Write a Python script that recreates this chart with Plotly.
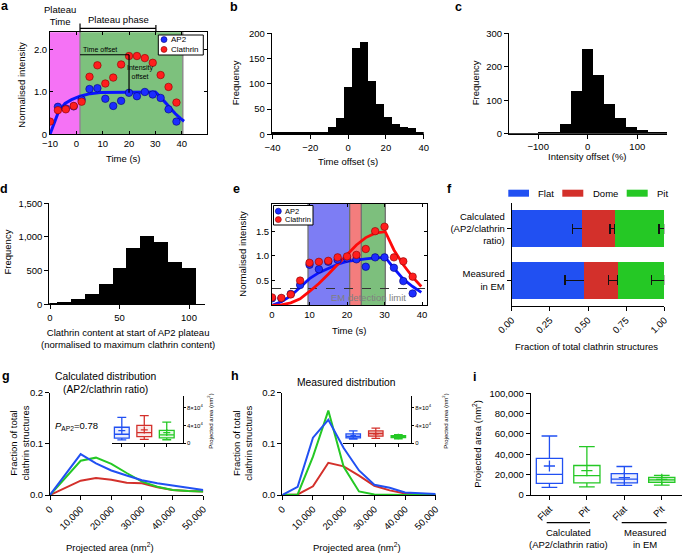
import plotly.graph_objects as go

W, H = 683, 554
FONT = "Liberation Sans, Arial, Helvetica, sans-serif"

def fx(p):
    return p / W

def fy(p):
    return 1 - p / H

# ---------------- DATA ----------------
# panel a
a_time = [-10, -7, -4, -1, 2, 5, 8, 11, 14, 17, 20, 23, 26, 29, 32, 35, 38]
a_clathrin = [0.30, 0.57, 0.59, 0.67, 0.77, 1.36, 1.63, 1.20, 1.34, 1.65, 1.85, 1.85, 1.80, 1.69, 1.40, 1.12, 0.75]
a_ap2_time = [-7, -4, -1, 2, 5, 8, 11, 14, 17, 20, 23, 26, 29, 32, 35, 38]
a_ap2 = [0.65, 0.61, 0.66, 0.82, 1.07, 1.09, 0.84, 0.67, 0.79, 0.98, 0.90, 1.00, 0.94, 0.86, 0.59, 0.30]
a_fit_time = [-10, -8.7, -6.8, -4.3, -1.8, 1.4, 5.2, 9, 20, 30, 31.8, 33.7, 35.6, 37.5, 39.4, 40.9]
a_fit_ap2 = [0, 0.22, 0.53, 0.73, 0.82, 0.90, 0.96, 0.99, 0.995, 1.0, 0.89, 0.75, 0.61, 0.49, 0.38, 0.31]
a_phase_edges = [-10, 1.4, 40.4]
a_plateau_end = 30.2
a_offset_time = 20
a_offset_levels = [0.98, 1.88]
a_xticks = [-10, 0, 10, 20, 30, 40]
a_yticks = [0, 1, 2]
a_yticklabels = ["0", "1.0", "2.0"]

# panel b
b_centers = [-37.9, -33.7, -29.5, -25.3, -21.1, -16.8, -12.6, -8.4, -4.2, 0.0,
             4.2, 8.4, 12.6, 16.8, 21.1, 25.3, 29.5, 33.7, 37.9]
b_counts = [2, 2, 2, 2, 5, 2, 3, 15, 33, 94, 170, 183, 105, 61, 34, 20, 14, 12, 5]
b_binwidth = 4.21

# panel c
c_centers = [-156.4, -134.2, -112.0, -89.8, -67.6, -45.4, -23.2, -1.0, 21.2, 43.4,
             65.6, 87.8, 110.0, 132.2, 154.4]
c_counts = [1, 1, 1, 2, 5, 29, 127, 252, 176, 90, 46, 19, 11, 4, 5]
c_binwidth = 22.2

# panel d
d_centers = [0, 10, 20, 30, 40, 50, 60, 70, 80, 90, 100]
d_counts = [10, 30, 80, 150, 300, 535, 830, 1015, 925, 630, 540]
d_binwidth = 10

# panel e
e_time = [0, 2.5, 5, 7.5, 10, 12.5, 15, 17.5, 20, 22.5, 25, 27.5, 30, 32.5, 35, 37.5]
e_ap2 = [0.14, 0.14, 0.23, 0.41, 0.82, 0.73, 0.88, 0.92, 0.95, 0.93, 0.78, 0.97, 0.97, 0.76, 0.49, 0.24]
e_clathrin = [0.16, 0.15, 0.22, 0.50, 0.86, 0.88, 0.90, 0.97, 0.99, 1.02, 1.14, 1.50, 1.59, 0.97, 0.89, 0.58]
e_fit_time = [0, 2.5, 5, 7.5, 10, 12.5, 15, 17.5, 20, 22.5, 25, 27.5, 30.2, 32.5, 35, 37.5, 39.8]
e_fit_ap2 = [0, 0.07, 0.19, 0.36, 0.54, 0.66, 0.75, 0.83, 0.89, 0.92, 0.94, 0.96, 0.97, 0.75, 0.53, 0.38, 0.26]
e_fit_clathrin = [0, 0.01, 0.05, 0.13, 0.28, 0.44, 0.63, 0.83, 1.03, 1.22, 1.37, 1.46, 1.49, 1.12, 0.82, 0.57, 0.38]
e_phase_edges = [9.6, 20.7, 23.8, 30.2]
e_em_limit = 0.34

# panel f
f_groups = ["Calculated<br>(AP2/clathrin<br>ratio)", "Measured<br>in EM"]
f_classes = ["Flat", "Dome", "Pit"]
f_fractions = {"Flat": [0.463, 0.476], "Dome": [0.214, 0.221], "Pit": [0.323, 0.303]}
f_errors = {"Flat": [0.065, 0.127], "Dome": [0.033, 0.064], "Pit": [0.035, 0.083]}
f_xticks = [0, 0.25, 0.5, 0.75, 1.0]

# panel g / h
g_area = [0, 10000, 15000, 20000, 25000, 30000, 35000, 40000, 45000, 50000]
g_flat = [0, 0.080, 0.062, 0.048, 0.038, 0.029, 0.023, 0.018, 0.014, 0.010]
g_dome = [0, 0.028, 0.033, 0.030, 0.024, 0.023, 0.015, 0.010, 0.008, 0.007]
g_pit = [0, 0.067, 0.073, 0.061, 0.043, 0.026, 0.016, 0.010, 0.008, 0.007]
h_area = [0, 5000, 10000, 15000, 20000, 25000, 30000, 35000, 40000, 45000, 50000]
h_flat = [0, 0.016, 0.112, 0.147, 0.092, 0.048, 0.020, 0.014, 0.005, 0.003, 0.002]
h_dome = [0, 0.001, 0.017, 0.063, 0.056, 0.038, 0.018, 0.009, 0.003, 0.001, 0]
h_pit = [0, 0.001, 0.075, 0.165, 0.055, 0.007, 0.001, 0, 0, 0, 0]
area_ticks = [0, 10000, 20000, 30000, 40000, 50000]

# box statistics: [lowerfence, q1, median, q3, upperfence, mean]
box_calc_flat = [7500, 11500, 20300, 36000, 58000, 28500]
box_calc_dome = [9000, 15000, 24000, 40000, 62000, 30000]
box_calc_pit = [8000, 12000, 19000, 29000, 47500, 24000]
box_meas_flat = [9500, 12000, 15700, 21000, 28000, 17000]
box_meas_dome = [11000, 16000, 22000, 28000, 34000, 21000]
box_meas_pit = [9800, 12500, 14800, 17400, 19300, 15400]
i_labels = ["Flat", "Pit", "Flat", "Pit"]
i_yticks = [0, 20000, 40000, 60000, 80000, 100000]
inset_ticks = [0, 40000, 80000]
inset_ticklabels = ["0", "4×10<sup>4</sup>", "8×10<sup>4</sup>"]

# ---------------- COLOURS ----------------
C_AP2 = "#1c2cff"
C_CLA = "#ff1e1e"
C_FLAT = "#2150f2"
C_DOME = "#d3302b"
C_PIT = "#25c825"

fig = go.Figure()

# ---------------- AXES ----------------
def ax(**kw):
    d = dict(showgrid=False, zeroline=False, showline=True, linecolor="black", linewidth=1,
             ticks="outside", ticklen=4, tickwidth=1, tickcolor="black", automargin=False,
             tickfont=dict(size=9.5, color="black", family=FONT))
    d.update(kw)
    return d

layout_axes = {
    "xaxis": ax(domain=[fx(50), fx(207)], range=[-10, 49.6], anchor="y", tickvals=a_xticks,
                ticks="inside", mirror="ticks", ticklen=3),
    "yaxis": ax(domain=[fy(134.3), fy(32.3)], range=[0, 2.41], anchor="x", tickvals=a_yticks,
                ticktext=a_yticklabels, ticks="inside", mirror="ticks", ticklen=3),
    "xaxis2": ax(domain=[fx(271.7), fx(423.7)], range=[-40.4, 40], anchor="y2",
                 tickvals=[-40, -20, 0, 20, 40]),
    "yaxis2": ax(domain=[fy(134.3), fy(33.3)], range=[0, 200], anchor="x2",
                 tickvals=[0, 50, 100, 150, 200]),
    "xaxis3": ax(domain=[fx(509), fx(667)], range=[-159, 160], anchor="y3",
                 tickvals=[-100, 0, 100]),
    "yaxis3": ax(domain=[fy(133.7), fy(33.3)], range=[0, 300], anchor="x3",
                 tickvals=[0, 100, 200, 300]),
    "xaxis4": ax(domain=[fx(49.3), fx(205)], range=[-0.5, 111.5], anchor="y4",
                 tickvals=[0, 50, 100]),
    "yaxis4": ax(domain=[fy(304.3), fy(203.3)], range=[0, 1500], anchor="x4",
                 tickvals=[0, 500, 1000, 1500], tickformat=","),
    "xaxis5": ax(domain=[fx(272), fx(427.3)], range=[0, 41.4], anchor="y5",
                 tickvals=[0, 10, 20, 30, 40], ticks="inside", mirror="ticks", ticklen=3),
    "yaxis5": ax(domain=[fy(305.3), fy(204)], range=[0, 2.05], anchor="x5",
                 tickvals=[0.5, 1.0, 1.5], tickformat=".1f", ticks="inside", mirror="ticks", ticklen=3),
    "xaxis6": ax(domain=[fx(511.7), fx(664.3)], range=[0, 1], anchor="y6",
                 tickvals=f_xticks, tickformat=".2f", tickangle=-45),
    "yaxis6": ax(domain=[fy(306), fy(202.7)], anchor="x6", type="category",
                 autorange="reversed"),
    "xaxis7": ax(domain=[fx(50), fx(203.3)], range=[0, 50000], anchor="y7",
                 tickvals=area_ticks, tickformat=",", tickangle=-45),
    "yaxis7": ax(domain=[fy(495), fy(392.7)], range=[0, 0.2], anchor="x7",
                 tickvals=[0, 0.1, 0.2], tickformat=".1f"),
    "xaxis8": ax(domain=[fx(282.3), fx(435.7)], range=[0, 50000], anchor="y8",
                 tickvals=area_ticks, tickformat=",", tickangle=-45),
    "yaxis8": ax(domain=[fy(495), fy(392.7)], range=[0, 0.2], anchor="x8",
                 tickvals=[0, 0.1, 0.2], tickformat=".1f"),
    "xaxis9": ax(domain=[fx(530.7), fx(682)], range=[0.5, 4.54], anchor="y9",
                 tickvals=[1, 2, 3, 4], ticktext=i_labels, tickangle=-45),
    "yaxis9": ax(domain=[fy(495), fy(393.3)], range=[0, 100000], anchor="x9",
                 tickvals=i_yticks, tickformat=","),
    "xaxis10": ax(domain=[fx(111.7), fx(182.7)], range=[0.55, 3.71], anchor="y10",
                  tickvals=[1, 2, 3], showticklabels=False, ticklen=3),
    "yaxis10": ax(domain=[fy(443.3), fy(396)], range=[0, 106000], anchor="x10", side="right",
                  tickvals=inset_ticks, ticktext=inset_ticklabels, ticklen=2,
                  tickfont=dict(size=6, color="black", family=FONT)),
    "xaxis11": ax(domain=[fx(343.3), fx(411)], range=[0.56, 3.56], anchor="y11",
                  tickvals=[1, 2, 3], showticklabels=False, ticklen=3),
    "yaxis11": ax(domain=[fy(443.3), fy(396)], range=[0, 106000], anchor="x11", side="right",
                  tickvals=inset_ticks, ticktext=inset_ticklabels, ticklen=2,
                  tickfont=dict(size=6, color="black", family=FONT)),
}

# ---------------- TRACES ----------------
# a
fig.add_trace(go.Scatter(x=a_fit_time, y=a_fit_ap2, mode="lines", line=dict(color="#0a14ff", width=3),
                         xaxis="x", yaxis="y", showlegend=False, hoverinfo="skip"))
fig.add_trace(go.Scatter(x=a_ap2_time, y=a_ap2, mode="markers",
                         marker=dict(color=C_AP2, size=7.5, line=dict(color="#00007a", width=0.6)),
                         xaxis="x", yaxis="y", showlegend=False))
fig.add_trace(go.Scatter(x=a_time, y=a_clathrin, mode="markers", cliponaxis=True,
                         marker=dict(color=C_CLA, size=7.5, line=dict(color="#8a0000", width=0.6)),
                         xaxis="x", yaxis="y", showlegend=False))

# b, c, d histograms
for xs, ys, w, xa, ya in [(b_centers, b_counts, b_binwidth, "x2", "y2"),
                          (c_centers, c_counts, c_binwidth, "x3", "y3"),
                          (d_centers, d_counts, d_binwidth, "x4", "y4")]:
    fig.add_trace(go.Bar(x=xs, y=ys, width=w, marker=dict(color="black", line=dict(width=0)),
                         xaxis=xa, yaxis=ya, showlegend=False))

# e
fig.add_trace(go.Scatter(x=e_fit_time, y=e_fit_ap2, mode="lines", line=dict(color="#0a14ff", width=2.8),
                         xaxis="x5", yaxis="y5", showlegend=False, hoverinfo="skip"))
fig.add_trace(go.Scatter(x=e_fit_time, y=e_fit_clathrin, mode="lines", line=dict(color="#ff0a0a", width=2.8),
                         xaxis="x5", yaxis="y5", showlegend=False, hoverinfo="skip"))
fig.add_trace(go.Scatter(x=e_time, y=e_ap2, mode="markers",
                         marker=dict(color=C_AP2, size=7.5, line=dict(color="#00007a", width=0.6)),
                         xaxis="x5", yaxis="y5", showlegend=False))
fig.add_trace(go.Scatter(x=e_time, y=e_clathrin, mode="markers",
                         marker=dict(color=C_CLA, size=7.5, line=dict(color="#8a0000", width=0.6)),
                         xaxis="x5", yaxis="y5", showlegend=False))

# f stacked bars
f_cols = {"Flat": C_FLAT, "Dome": C_DOME, "Pit": C_PIT}
for cls in f_classes:
    fig.add_trace(go.Bar(y=f_groups, x=f_fractions[cls], orientation="h", width=0.72,
                         marker=dict(color=f_cols[cls], line=dict(width=0)),
                         error_x=dict(type="data", symmetric=False, array=[0, 0],
                                      arrayminus=f_errors[cls], color="#111111",
                                      thickness=1.3, width=5),
                         xaxis="x6", yaxis="y6", showlegend=False, name=cls))

# g, h lines
for xs, series, xa, ya in [(g_area, [(g_dome, C_DOME), (g_pit, C_PIT), (g_flat, C_FLAT)], "x7", "y7"),
                           (h_area, [(h_dome, C_DOME), (h_pit, C_PIT), (h_flat, C_FLAT)], "x8", "y8")]:
    for ys, col in series:
        fig.add_trace(go.Scatter(x=xs, y=ys, mode="lines", line=dict(color=col, width=2),
                                 xaxis=xa, yaxis=ya, showlegend=False, hoverinfo="skip"))

# boxes
def add_box(pos, stats, col, fill, xa, ya, width, msize):
    lf, q1, med, q3, uf, mean = stats
    fig.add_trace(go.Box(x=[pos], lowerfence=[lf], q1=[q1], median=[med], q3=[q3], upperfence=[uf],
                         orientation="v", width=width, whiskerwidth=0.6, boxpoints=False,
                         line=dict(color=col, width=1.3), fillcolor=fill,
                         xaxis=xa, yaxis=ya, showlegend=False, hoverinfo="skip"))
    fig.add_trace(go.Scatter(x=[pos], y=[mean], mode="markers",
                             marker=dict(symbol="cross-thin", size=msize, color=col,
                                         line=dict(color=col, width=1.3)),
                             xaxis=xa, yaxis=ya, showlegend=False, hoverinfo="skip"))

LB = "rgba(60,90,245,0.10)"
LR = "rgba(215,50,45,0.10)"
LG = "rgba(40,200,40,0.12)"
add_box(1, box_calc_flat, C_FLAT, "rgba(255,255,255,0)", "x9", "y9", 0.7, 8)
add_box(2, box_calc_pit, C_PIT, "rgba(255,255,255,0)", "x9", "y9", 0.7, 8)
add_box(3, box_meas_flat, C_FLAT, LB, "x9", "y9", 0.7, 8)
add_box(4, box_meas_pit, C_PIT, "rgba(40,200,40,0.25)", "x9", "y9", 0.7, 8)

add_box(1, box_calc_flat, C_FLAT, LB, "x10", "y10", 0.66, 5)
add_box(2, box_calc_dome, C_DOME, LR, "x10", "y10", 0.66, 5)
add_box(3, box_calc_pit, C_PIT, LG, "x10", "y10", 0.66, 5)
add_box(1, box_meas_flat, C_FLAT, "rgba(60,90,245,0.25)", "x11", "y11", 0.64, 4)
add_box(2, box_meas_dome, C_DOME, "rgba(215,50,45,0.25)", "x11", "y11", 0.64, 4)
add_box(3, box_meas_pit, C_PIT, "rgba(40,200,40,0.6)", "x11", "y11", 0.64, 4)

# ---------------- SHAPES ----------------
shapes = []
# a shading
shapes.append(dict(type="rect", xref="x", yref="y domain", x0=a_phase_edges[0], x1=a_phase_edges[1],
                   y0=0, y1=1, fillcolor="#f572f5", line=dict(width=0), layer="below"))
shapes.append(dict(type="rect", xref="x", yref="y domain", x0=a_phase_edges[1], x1=a_phase_edges[2],
                   y0=0, y1=1, fillcolor="#7dc17d", line=dict(width=0), layer="below"))
for xe in a_phase_edges[1:]:
    shapes.append(dict(type="line", xref="x", yref="y domain", x0=xe, x1=xe, y0=0, y1=1,
                       line=dict(color="#8c8c8c", width=1.5), layer="below"))
shapes.append(dict(type="line", xref="x", yref="y", x0=a_phase_edges[1], x1=a_offset_time,
                   y0=a_offset_levels[1], y1=a_offset_levels[1], line=dict(color="black", width=1.2)))
shapes.append(dict(type="line", xref="x", yref="y", x0=a_offset_time, x1=a_offset_time,
                   y0=a_offset_levels[0], y1=a_offset_levels[1], line=dict(color="black", width=1.2)))
# bracket above a
shapes.append(dict(type="line", xref="x", yref="paper", x0=a_phase_edges[1], x1=a_plateau_end,
                   y0=fy(28.3), y1=fy(28.3), line=dict(color="black", width=1.2)))
shapes.append(dict(type="line", xref="x", yref="paper", x0=a_phase_edges[1], x1=a_phase_edges[1],
                   y0=fy(23.5), y1=fy(32.3), line=dict(color="black", width=1.2)))
shapes.append(dict(type="line", xref="x", yref="paper", x0=a_plateau_end, x1=a_plateau_end,
                   y0=fy(25), y1=fy(32.3), line=dict(color="black", width=1.2)))

# e shading
e_cols = ["#7d7df4", "#f47d7d", "#7dbf7d"]
for k, col in enumerate(e_cols):
    shapes.append(dict(type="rect", xref="x5", yref="y5 domain", x0=e_phase_edges[k], x1=e_phase_edges[k + 1],
                       y0=0, y1=1, fillcolor=col, line=dict(width=0), layer="below"))
for xe in e_phase_edges:
    shapes.append(dict(type="line", xref="x5", yref="y5 domain", x0=xe, x1=xe, y0=0, y1=1,
                       line=dict(color="#707070", width=1.3), layer="below"))
shapes.append(dict(type="line", xref="x5 domain", yref="y5", x0=0, x1=1, y0=e_em_limit, y1=e_em_limit,
                   line=dict(color="#333333", width=1, dash="dash"), layer="below"))

# manual legends (a, e)
def legend_box(x0, y0, x1, y1, items):
    shapes.append(dict(type="rect", xref="paper", yref="paper", x0=fx(x0), x1=fx(x1), y0=fy(y1), y1=fy(y0),
                       fillcolor="white", line=dict(color="black", width=1)))
    for (cx, cy, col, edge) in items:
        r = 3
        shapes.append(dict(type="circle", xref="paper", yref="paper", x0=fx(cx - r), x1=fx(cx + r),
                           y0=fy(cy + r), y1=fy(cy - r), fillcolor=col, line=dict(color=edge, width=0.6)))

legend_box(158.3, 35, 203.3, 55, [(164, 39.6, C_AP2, "#00007a"), (164, 49.4, C_CLA, "#8a0000")])
legend_box(273.5, 205.5, 313, 225, [(278.3, 211.2, C_AP2, "#00007a"), (278.3, 219.6, C_CLA, "#8a0000")])

# f legend swatches
for (xa_, xb_, col) in [(508.3, 529, C_FLAT), (562.3, 583.3, C_DOME), (626.7, 647.7, C_PIT)]:
    shapes.append(dict(type="rect", xref="paper", yref="paper", x0=fx(xa_), x1=fx(xb_),
                       y0=fy(196.7), y1=fy(189.7), fillcolor=col, line=dict(width=0)))

# i group lines
for (xa_, xb_) in [(546.7, 590), (621.7, 666.7)]:
    shapes.append(dict(type="line", xref="paper", yref="paper", x0=fx(xa_), x1=fx(xb_),
                       y0=fy(522.7), y1=fy(522.7), line=dict(color="black", width=1.2)))

# ---------------- ANNOTATIONS ----------------
anns = []

def A(text, x, y, size=9.5, angle=0, xanchor="center", yanchor="middle", color="black", bold=False, align="center"):
    if bold:
        text = "<b>" + text + "</b>"
    anns.append(dict(text=text, x=fx(x), y=fy(y), xref="paper", yref="paper", showarrow=False,
                     xanchor=xanchor, yanchor=yanchor, textangle=angle, align=align,
                     font=dict(size=size, color=color, family=FONT)))

# panel letters
for lab, x, y in [("a", 4.5, 6.5), ("b", 234, 7), ("c", 458, 7.5), ("d", 4, 189), ("e", 236, 189),
                  ("f", 449, 189), ("g", 5.5, 376), ("h", 235, 376), ("i", 474, 377)]:
    A(lab, x, y, size=12.5, bold=True)

# a
A("Plateau<br>Time", 60, 15.5, size=9.5)
A("Plateau phase", 118, 20, size=9.5)
A("Time offset", 100, 49, size=7)
A("Intensity<br>offset", 140, 72.5, size=7)
A("AP2", 168.5, 39.6, size=8, xanchor="left")
A("Clathrin", 168.5, 49.4, size=8, xanchor="left")
A("Time (s)", 123, 158, size=9.5)
A("Normalised intensity", 21.7, 85, size=9.5, angle=-90)

# b, c, d
A("Time offset (s)", 348, 162, size=9.5)
A("Frequency", 235, 83.3, size=9.5, angle=-90)
A("Intensity offset (%)", 587.7, 156, size=9.5)
A("Frequency", 475, 83.3, size=9.5, angle=-90)
A("Clathrin content at start of AP2 plateau<br>(normalised to maximum clathrin content)", 128, 338.5, size=9.5)
A("Frequency", 7, 252.5, size=9.5, angle=-90)

# e
A("AP2", 283, 211.2, size=7.5, xanchor="left")
A("Clathrin", 283, 219.6, size=7.5, xanchor="left")
A("EM detection limit", 368, 297.3, size=9.5, color="#808080")
A("Time (s)", 349.3, 330.7, size=9.5)
A("Normalised intensity", 241.7, 254, size=9.5, angle=-90)

# f
A("Flat", 546, 193.2, size=9.5)
A("Dome", 605, 193.2, size=9.5)
A("Pit", 662.3, 193.2, size=9.5)
A("Fraction of total clathrin structures", 586.7, 346.7, size=9.5)

# g
A("Calculated distribution<br>(AP2/clathrin ratio)", 106, 383.3, size=10.3)
A("<i>P</i><sub>AP2</sub>=0.78", 76.7, 426, size=9.5)
A("Fraction of total<br>clathrin structures", 18.5, 443, size=9.5, angle=-90)
A("Projected area (nm<sup>2</sup>)", 110, 546.5, size=9.5)
A("Projected area (nm<sup>2</sup>)", 210, 421.7, size=6, angle=-90)

# h
A("Measured distribution", 346.7, 382.7, size=10.3)
A("Fraction of total<br>clathrin structures", 241.7, 443, size=9.5, angle=-90)
A("Projected area (nm<sup>2</sup>)", 356.7, 546.5, size=9.5)
A("Projected area (nm<sup>2</sup>)", 445, 421.7, size=6, angle=-90)

# i
A("Projected area (nm<sup>2</sup>)", 476.7, 444, size=9.5, angle=-90)
A("Calculated<br>(AP2/clathrin ratio)", 568.3, 538, size=9.5)
A("Measured<br>in EM", 645, 538, size=9.5)

fig.update_layout(
    width=W, height=H,
    margin=dict(l=0, r=0, t=0, b=0, autoexpand=False),
    paper_bgcolor="white", plot_bgcolor="white",
    font=dict(family=FONT, size=9.5, color="black"),
    barmode="stack", boxmode="overlay",
    showlegend=False,
    shapes=shapes, annotations=anns,
    **layout_axes,
)

fig.write_html("out.html",
               config={"displayModeBar": False},
               post_script="document.body.style.margin='0px';document.body.style.overflow='hidden';")
